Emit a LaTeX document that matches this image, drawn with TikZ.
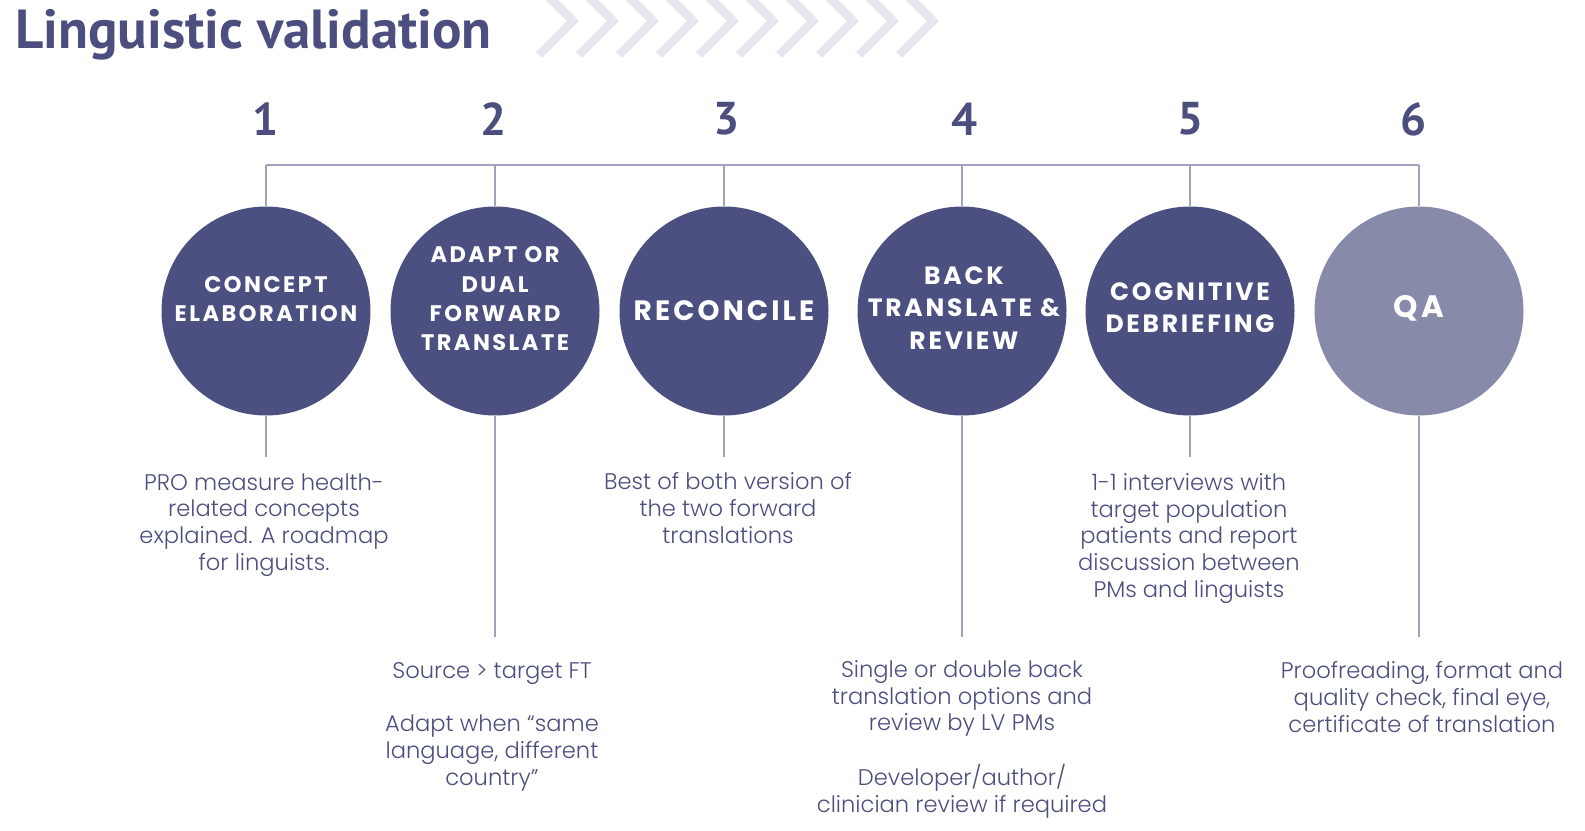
\documentclass[tikz,border=0pt]{standalone}
\usepackage{fontspec}
\setmainfont{Poppins}
\newfontfamily\titlefont{PT Sans}
\newfontfamily\circfont{Poppins}[LetterSpace=11]
\newfontfamily\bodyfont{Poppins}[UprightFont=* Light]
\definecolor{navy}{HTML}{4B5081}
\definecolor{qa}{HTML}{878AA8}
\definecolor{rulec}{HTML}{A0A1BD}
\definecolor{chev}{HTML}{E6E6EF}
\definecolor{ink}{HTML}{4B4E7E}
\begin{document}
\begin{tikzpicture}[x=1pt,y=-1pt,
  stepcircle/.style={circle, fill=navy, minimum size=209pt, inner sep=0pt},
  qacircle/.style={stepcircle, fill=qa},
  circtext/.style={text=white, font=\circfont\bfseries\fontsize{22.5}{29.3}\selectfont, align=center, inner sep=0pt},
  num/.style={text=ink, font=\titlefont\bfseries\fontsize{46}{46}\selectfont, inner sep=0pt},
  desc/.style={text=ink, font=\bodyfont\fontsize{22.6}{26.6}\selectfont, align=center, anchor=base, inner sep=0pt},
  link/.style={draw=rulec, line width=2pt},
  chevron/.style={draw=chev, line width=8.5pt}
]
\useasboundingbox (0,0) rectangle (1585,830);
% chevrons
\foreach \i in {0,...,9}{
  \draw[chevron] ({539+40*\i},-13) -- ({573+40*\i},21) -- ({539+40*\i},55);
}
% title
\node[anchor=base west, text=ink, font=\titlefont\bfseries\fontsize{55}{55}\selectfont, inner sep=0pt] (title) at (15,48) {Linguistic validation};
% numbers
\node[num] (n1) at (266,119) {1};
\node[num] (n2) at (494,119) {2};
\node[num] (n3) at (727,119) {3};
\node[num] (n4) at (965,119) {4};
\node[num] (n5) at (1191,119) {5};
\node[num] (n6) at (1414,119) {6};
% circles
\node[stepcircle] (c1) at (266,311) {};
\node[stepcircle] (c2) at (495,311) {};
\node[stepcircle] (c3) at (724,311) {};
\node[stepcircle] (c4) at (962,311) {};
\node[stepcircle] (c5) at (1190,311) {};
\node[qacircle] (c6) at (1419,311) {};
% circle labels
\node[circtext] (l1) at (266,299) {CONCEPT\\ELABORATION};
\node[circtext] (l2) at (495,299) {ADAPT OR\\DUAL\\FORWARD\\TRANSLATE};
\node[circtext, font=\circfont\bfseries\fontsize{28}{30}\selectfont] (l3) at (724,311) {RECONCILE};
\node[circtext, font=\circfont\bfseries\fontsize{25}{32.3}\selectfont] (l4) at (964,308) {BACK\\TRANSLATE \&\\REVIEW};
\node[circtext, font=\circfont\bfseries\fontsize{25}{32.3}\selectfont] (l5) at (1190,308) {COGNITIVE\\DEBRIEFING};
\node[circtext, font=\circfont\bfseries\fontsize{31}{32}\selectfont] (l6) at (1419,308) {QA};
% top bar
\coordinate (b1) at (266,165);
\coordinate (b6) at (1419,165);
\draw[link] (b1) -- (b6);
\foreach \k in {1,...,6}{
  \draw[link] (c\k.north |- b1) -- (c\k.north);
}
% bottom connectors
\coordinate (s) at (0,457);
\coordinate (L) at (0,637);
\draw[link] (c1.south) -- (c1.south |- s);
\draw[link] (c2.south) -- (c2.south |- L);
\draw[link] (c3.south) -- (c3.south |- s);
\draw[link] (c4.south) -- (c4.south |- L);
\draw[link] (c5.south) -- (c5.south |- s);
\draw[link] (c6.south) -- (c6.south |- L);
% descriptions (anchor = baseline of last line)
\node[desc] (d1) at (264,570) {PRO measure health-\\related concepts\\explained. A roadmap\\for linguists.};
\node[desc] (d2) at (492,785) {Source > target FT\\[26.6pt]Adapt when “same\\language, different\\country”};
\node[desc] (d3) at (728,543) {Best of both version of\\the two forward\\translations};
\node[desc] (d4) at (962,812) {Single or double back\\translation options and\\review by LV PMs\\[26.6pt]Developer/author/\\clinician review if required};
\node[desc] (d5) at (1189,597) {1-1 interviews with\\target population\\patients and report\\discussion between\\PMs and linguists};
\node[desc] (d6) at (1422,732) {Proofreading, format and\\quality check, final eye,\\certificate of translation};
\end{tikzpicture}
\end{document}
